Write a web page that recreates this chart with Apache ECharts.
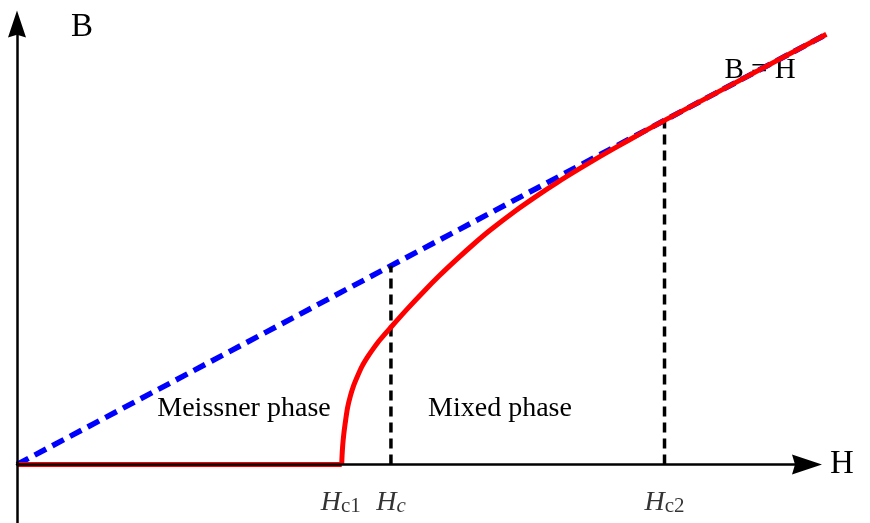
<!DOCTYPE html>
<html>
<head>
<meta charset="utf-8">
<script src="https://cdn.jsdelivr.net/npm/echarts@6/dist/echarts.min.js"></script>
<style>
html,body{margin:0;padding:0;background:#fff;}
#chart{width:870px;height:523px;}
</style>
</head>
<body>
<div id="chart"></div>
<script>
// ---- data (H, B) ----
var meissnerLine = [[0, 0], [1.003, 0]];                     // B = 0 up to Hc1
var mixedCurve = [[1.003, 0], [1.004, 0.05], [1.006, 0.11], [1.009, 0.17], [1.013, 0.23],
  [1.021, 0.33], [1.030, 0.40], [1.040, 0.46], [1.052, 0.515], [1.066, 0.572],
  [1.084, 0.628], [1.100, 0.672], [1.120, 0.722], [1.157, 0.802], [1.205, 0.903],
  [1.255, 1.003], [1.305, 1.098], [1.358, 1.192], [1.41, 1.28], [1.461, 1.361],
  [1.54, 1.475], [1.615, 1.573], [1.667, 1.637], [1.735, 1.716], [1.8, 1.789],
  [1.85, 1.843], [1.903, 1.899], [1.95, 1.949], [2.0, 2.0], [2.5, 2.5]];
var bEqualsH = [[0, 0], [2.5, 2.5]];
var fieldMarks = [1.155, 2.0];                               // Hc, Hc2 dashed verticals
var tickValues = [1.0, 1.155, 2.0];
var tickLabels = ['{i|H}{s|c1}', '{i|H}{si|c}', '{i|H}{s|c2}'];

var SERIF = '"Liberation Serif","Times New Roman",serif';
var chart = echarts.init(document.getElementById('chart'));

var series = [];
series.push({
  type: 'line', data: bEqualsH, symbol: 'none', z: 2,
  lineStyle: {color: '#0000FF', width: 5.5, type: [13, 7]}
});
fieldMarks.forEach(function (h) {
  series.push({
    type: 'line', data: [[h, 0], [h, h]], symbol: 'none', z: 3,
    lineStyle: {color: '#000', width: 3.5, type: [10, 6]}
  });
});
series.push({
  type: 'line', data: meissnerLine, symbol: 'none', z: 4,
  lineStyle: {color: '#FF0000', width: 5}
});
series.push({
  type: 'line', data: mixedCurve, symbol: 'none', z: 4, smooth: 0.3,
  lineStyle: {color: '#FF0000', width: 5, join: 'round'}
});
series.push({
  type: 'scatter', symbolSize: 0, z: 5,
  data: tickValues.map(function (v, i) { return {value: [v, 0], name: tickLabels[i]}; }),
  label: {
    show: true, position: 'bottom', distance: 24, color: '#000',
    formatter: function (p) { return p.name; },
    rich: {
      i: {fontFamily: SERIF, fontStyle: 'italic', fontSize: 28, lineHeight: 28, color: '#000'},
      s: {fontFamily: SERIF, fontSize: 21, lineHeight: 16, verticalAlign: 'bottom', color: '#000'},
      si: {fontFamily: SERIF, fontStyle: 'italic', fontSize: 21, lineHeight: 16, verticalAlign: 'bottom', color: '#000'}
    }
  }
});

var arrowPath = 'path://M10,0 L20,30 L10,27 L0,30 Z';
var hidden = {show: false};

chart.setOption({
  animation: false,
  backgroundColor: '#fff',
  grid: [
    {left: 17, right: 43.6, top: 24, bottom: 0, containLabel: false, outerBoundsMode: 'none'},
    {left: 17, right: 63, top: 24, bottom: 0, containLabel: false, outerBoundsMode: 'none'}
  ],
  xAxis: [
    {type: 'value', gridIndex: 0, min: 0, max: 2.5,
      axisLine: hidden, axisTick: hidden, axisLabel: hidden, splitLine: hidden},
    {type: 'value', gridIndex: 1, min: 0, max: 2.44, z: 10,
      splitLine: hidden, axisTick: hidden, axisLabel: hidden,
      axisLine: {onZero: true, lineStyle: {color: '#000', width: 2.5},
        symbol: ['none', arrowPath], symbolSize: [20, 30]}}
  ],
  yAxis: [
    {type: 'value', gridIndex: 0, min: -0.34, max: 2.56, z: 10,
      splitLine: hidden, axisTick: hidden, axisLabel: hidden,
      axisLine: {onZero: true, lineStyle: {color: '#000', width: 2.5},
        symbol: ['none', arrowPath], symbolSize: [18, 35]}},
    {type: 'value', gridIndex: 1, min: -0.34, max: 2.56,
      axisLine: hidden, axisTick: hidden, axisLabel: hidden, splitLine: hidden}
  ],
  graphic: [
    {type: 'text', x: 82, y: 27, z: 1, style: {text: 'B', font: '33px ' + SERIF, fill: '#000', align: 'center', verticalAlign: 'middle'}},
    {type: 'text', x: 842, y: 464, z: 1, style: {text: 'H', font: '33px ' + SERIF, fill: '#000', align: 'center', verticalAlign: 'middle'}},
    {type: 'text', x: 760, y: 70, z: 1, style: {text: 'B = H', font: '29px ' + SERIF, fill: '#000', align: 'center', verticalAlign: 'middle'}},
    {type: 'text', x: 244, y: 409, z: 1, style: {text: 'Meissner phase', font: '28px ' + SERIF, fill: '#000', align: 'center', verticalAlign: 'middle'}},
    {type: 'text', x: 500, y: 409, z: 1, style: {text: 'Mixed phase', font: '28px ' + SERIF, fill: '#000', align: 'center', verticalAlign: 'middle'}}
  ],
  series: series
});
</script>
</body>
</html>
